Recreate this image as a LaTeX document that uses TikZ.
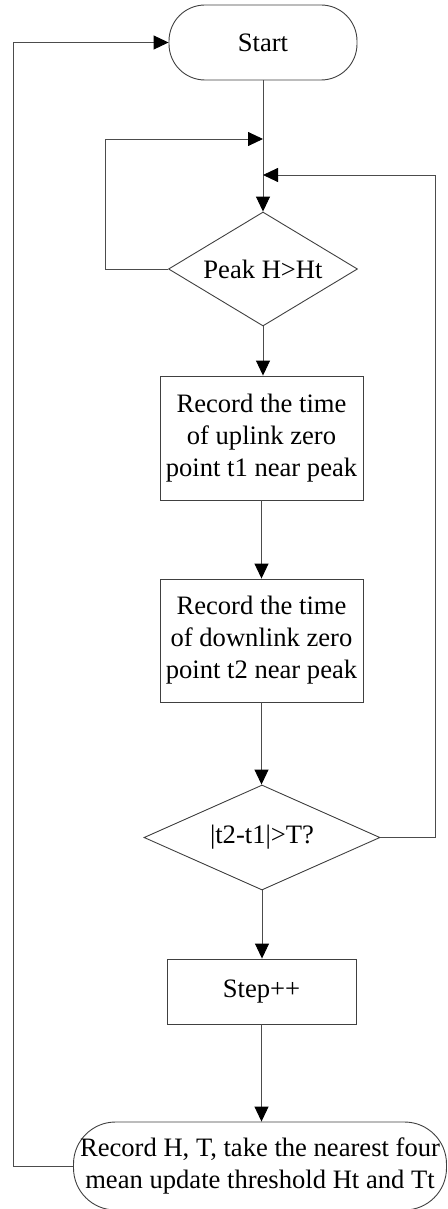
\documentclass[tikz,border=0pt]{standalone}
\usepackage{fontspec}
\setmainfont{Liberation Serif}
\usetikzlibrary{shapes.geometric,arrows.meta}
\begin{document}
\begin{tikzpicture}[x=1pt,y=-1pt,
  every node/.style={font=\fontsize{26.6}{32}\selectfont, align=center, inner sep=0pt, text=black},
  shapeline/.style={draw=black!75, line width=0.9pt},
  procbox/.style={shapeline, rectangle, minimum width=#1},
  decision/.style={shapeline, diamond},
  flowline/.style={draw=black!70, line width=0.9pt},
  arr/.style={flowline, -{Triangle[length=15pt,width=14pt,color=black]}}]
\useasboundingbox (0,0) rectangle (447,1209);

% nodes
\node[shapeline, rounded corners=36pt, minimum width=188pt, minimum height=75pt] (start) at (263,42.5) {Start};
\node[decision, aspect=1.66, minimum width=189pt, minimum height=114pt] (peak) at (263,269) {Peak H>Ht};
\node[procbox=203pt, minimum height=124pt] (up) at (261.5,438) {Record the time\\of uplink zero\\point t1 near peak};
\node[procbox=203pt, minimum height=123pt] (down) at (261.5,640.5) {Record the time\\of downlink zero\\point t2 near peak};
\node[decision, aspect=2.25, minimum width=236pt, minimum height=105pt] (cmp) at (262,837.5) {|t2-t1|>T?};
\node[procbox=189pt, minimum height=65pt] (stepinc) at (261.5,991.5) {Step++};
\node[shapeline, rounded corners=42pt, minimum width=373pt, minimum height=88pt] (upd) at (260,1166) {Record H, T, take the nearest four\\mean update threshold Ht and Tt};

% merge points on the main line above the first decision
\coordinate (m1) at (263,139);
\coordinate (m2) at (263,175);

% connectors
\draw[arr] (start.south) -- (peak.north);
\draw[arr] (peak.west) -- ++(-63,0) |- (m1);
\draw[arr] (cmp.east) -- ++(55,0) |- (m2);
\draw[arr] (peak.south) -- (up.north -| peak.south);
\draw[arr] (up.south) -- (down.north);
\draw[arr] (down.south) -- (cmp.north -| down.south);
\draw[arr] (cmp.south) -- (stepinc.north -| cmp.south);
\draw[arr] (stepinc.south) -- (upd.north -| stepinc.south);
\draw[arr] (upd.west) -- ++(-60,0) |- (start.west);
\end{tikzpicture}
\end{document}
